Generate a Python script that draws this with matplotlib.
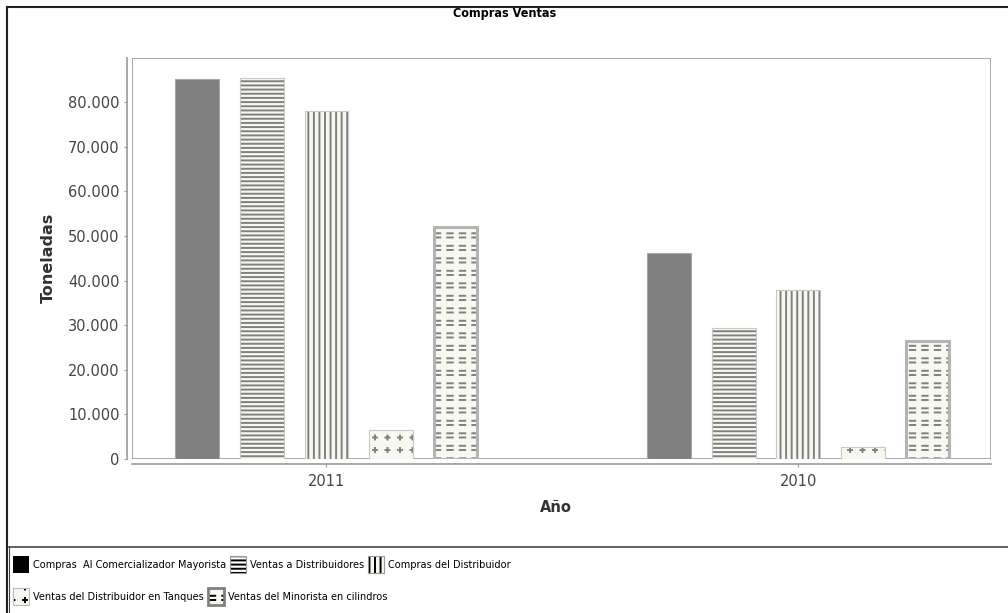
import numpy as np
import matplotlib
matplotlib.use("Agg")
import matplotlib.pyplot as plt
from matplotlib import hatch as mhatch
from matplotlib.path import Path
from matplotlib.patches import Patch, Rectangle
from matplotlib.lines import Line2D
from matplotlib.ticker import FuncFormatter

years = ["2011", "2010"]
series = ["Compras  Al Comercializador Mayorista", "Ventas a Distribuidores",
          "Compras del Distribuidor", "Ventas del Distribuidor en Tanques",
          "Ventas del Minorista en cilindros"]
compras_mayorista = [85100, 46100]
ventas_distribuidores = [85400, 29300]
compras_distribuidor = [78000, 37900]
ventas_tanques = [6500, 2600]
ventas_cilindros = [51900, 26500]
yticks = [0, 10000, 20000, 30000, 40000, 50000, 60000, 70000, 80000]


# two extra hatch patterns: 'o' -> little plus signs, 'O' -> short dashes
class PlusHatch(mhatch.HatchPatternBase):
    def __init__(self, hatch, density):
        self.num = hatch.count("o") * 8
        self.num_vertices = 4 * (self.num + 1) ** 2 if self.num else 0

    def set_vertices_and_codes(self, vertices, codes):
        step = 1.0 / self.num
        arm = 0.02
        k = 0
        for r in range(self.num + 1):
            for c in range(self.num + 1):
                x0, y0 = c * step, r * step
                vertices[k:k + 4] = [(x0 - arm, y0), (x0 + arm, y0),
                                     (x0, y0 - arm), (x0, y0 + arm)]
                codes[k:k + 4] = [Path.MOVETO, Path.LINETO, Path.MOVETO, Path.LINETO]
                k += 4


class DashHatch(mhatch.HatchPatternBase):
    def __init__(self, hatch, density):
        self.num = hatch.count("O") * 8
        self.num_vertices = 4 * (self.num + 1) ** 2 if self.num else 0

    def set_vertices_and_codes(self, vertices, codes):
        step = 1.0 / self.num
        half = 0.027
        k = 0
        for r in range(self.num + 1):
            for c in range(self.num + 1):
                x0, y0 = c * step, r * step
                vertices[k:k + 4] = [(x0 - half, y0), (x0 + half, y0),
                                     (x0 - half, y0 + 0.042), (x0 + half, y0 + 0.042)]
                codes[k:k + 4] = [Path.MOVETO, Path.LINETO, Path.MOVETO, Path.LINETO]
                k += 4


mhatch._hatch_types = [t for t in mhatch._hatch_types
                       if t not in (mhatch.SmallCircles, mhatch.LargeCircles)]
mhatch._hatch_types += [PlusHatch, DashHatch]

plt.rcParams["hatch.linewidth"] = 1.4
plt.rcParams["font.family"] = "DejaVu Sans"

values = [compras_mayorista, ventas_distribuidores, compras_distribuidor,
          ventas_tanques, ventas_cilindros]
hatches = [None, "----", "|||", "o", "O"]
cream = "#f8f8f0"

fig = plt.figure(figsize=(10.08, 6.13), dpi=100)
ax = fig.add_axes([132 / 1008, 1 - 459 / 613, (991 - 132) / 1008, (459 - 58) / 613])

x = np.arange(len(years))
width = 0.093
step = 0.1367
for i, vals in enumerate(values):
    pos = x + (i - 2) * step
    if hatches[i] is None:
        ax.bar(pos, vals, width, color="#808080", edgecolor="#a8a8a8", linewidth=0.8, zorder=2)
    else:
        ax.bar(pos, vals, width, color=cream, edgecolor="#808080", linewidth=0,
               hatch=hatches[i], zorder=2)
        if i == 4:
            ax.bar(pos, vals, width, fill=False, edgecolor="#b4b4b4", linewidth=2.2, zorder=3)
        else:
            ax.bar(pos, vals, width, fill=False, edgecolor="#c8c8c8", linewidth=0.8, zorder=3)

ax.set_xlim(-0.412, 1.408)
ax.set_ylim(0, 89900)
ax.add_patch(Rectangle((0, 0), 1, 1, transform=ax.transAxes, fill=False,
                       edgecolor="#a0a0a0", linewidth=1.3, zorder=1))
for s in ["top", "right"]:
    ax.spines[s].set_visible(False)
ax.spines["left"].set_position(("outward", 3.5))
ax.spines["bottom"].set_position(("outward", 3.3))
for s in ["left", "bottom"]:
    ax.spines[s].set_color("#999999")
    ax.spines[s].set_linewidth(1.2)

ax.set_yticks(yticks)
ax.yaxis.set_major_formatter(FuncFormatter(lambda v, p: f"{int(v):,}".replace(",", ".")))
ax.set_xticks(x, years)
ax.tick_params(axis="both", length=2.5, color="#999999", labelsize=10.5,
               labelcolor="#444444", pad=3)
ax.tick_params(axis="x", pad=5)

fig.text(505 / 1008, 1 - 13.5 / 613, "Compras Ventas", ha="center", va="center",
         fontsize=9, fontweight="bold", fontstretch="condensed")
fig.text(48 / 1008, 1 - 258 / 613, "Toneladas", ha="center", va="center",
         rotation=90, fontsize=11.5, fontweight="bold", color="#333333")
fig.text(556 / 1008, 1 - 508 / 613, "Año", ha="center", va="center",
         fontsize=10.5, fontweight="bold", color="#333333")

# frame lines around the chart and the legend
fig.add_artist(Line2D([6.5 / 1008, 1], [1 - 6.5 / 613] * 2, color="#222222", lw=1.5))
fig.add_artist(Line2D([6.5 / 1008] * 2, [0, 1 - 6.5 / 613], color="#222222", lw=1.5))
fig.add_artist(Line2D([8.5 / 1008, 1], [1 - 547 / 613] * 2, color="#444444", lw=1.2))
fig.add_artist(Line2D([8.5 / 1008] * 2, [0, 1 - 547 / 613], color="#444444", lw=0.8))

handles = [
    Patch(facecolor="black", edgecolor="black", linewidth=0),
    (Patch(facecolor="white", edgecolor="black", hatch="----", linewidth=0),
     Patch(fill=False, edgecolor="#999999", linewidth=0.8)),
    (Patch(facecolor=cream, edgecolor="black", hatch="|||", linewidth=0),
     Patch(fill=False, edgecolor="#999999", linewidth=0.8)),
    (Patch(facecolor=cream, edgecolor="black", hatch="o", linewidth=0),
     Patch(fill=False, edgecolor="#bbbbbb", linewidth=0.8)),
    (Patch(facecolor=cream, edgecolor="black", hatch="O", linewidth=0),
     Patch(fill=False, edgecolor="#808080", linewidth=2)),
]
leg_font = dict(family="DejaVu Sans", stretch="condensed", size=7.8)
leg_kw = dict(loc="upper left", frameon=False, prop=leg_font, handlelength=1.5,
              handleheight=2.0, handletextpad=0.35, columnspacing=0.35,
              borderpad=0, borderaxespad=0)
fig.legend(handles[:3], series[:3], ncol=3, bbox_to_anchor=(13 / 1008, 1 - 556 / 613), **leg_kw)
fig.legend(handles[3:], series[3:], ncol=2, bbox_to_anchor=(13 / 1008, 1 - 588 / 613), **leg_kw)

fig.savefig("out.png", dpi=100)
